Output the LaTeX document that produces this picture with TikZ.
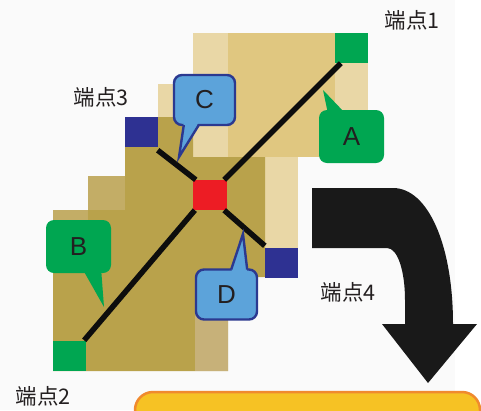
\documentclass[tikz,border=0pt]{standalone}
\usepackage{fontspec}
\setmainfont{Liberation Sans}
\newfontfamily\cjk{Noto Sans CJK SC}
\usetikzlibrary{calc}
\definecolor{bgc}{HTML}{FAFAFA}
\definecolor{tanlight}{HTML}{E9D7A6}
\definecolor{tanmain}{HTML}{E0C780}
\definecolor{tandark}{HTML}{B9A24B}
\definecolor{tanstep}{HTML}{C3AD66}
\definecolor{tanlow}{HTML}{C7B179}
\definecolor{gr}{HTML}{00A651}
\definecolor{bl}{HTML}{2E3192}
\definecolor{rd}{HTML}{ED1C24}
\definecolor{cfill}{HTML}{5CA3DA}
\definecolor{cborder}{HTML}{2B3990}
\definecolor{ylw}{HTML}{F6C224}
\definecolor{org}{HTML}{F08A2E}
\definecolor{txt}{HTML}{231F20}
\begin{document}
\begin{tikzpicture}[x=1pt,y=-1pt,
  sq/.style={minimum width=33pt,minimum height=30pt,inner sep=0pt,draw=none},
  link/.style={line width=5.5pt,black!95},
  label/.style={font=\cjk\fontsize{21.5}{24}\selectfont,text=txt,inner sep=0pt},
  gcall/.style={fill=gr,rounded corners=8pt,minimum width=65pt,minimum height=53pt,inner sep=0pt,font=\fontsize{26}{30}\selectfont,text=txt},
  bcall/.style={fill=cfill,draw=cborder,line width=2.4pt,rounded corners=8pt,minimum width=61pt,minimum height=50pt,inner sep=0pt,font=\fontsize{26}{30}\selectfont,text=txt},
  gptr/.style={fill=gr},
  bptr/.style={fill=cfill,draw=cborder,line width=2.4pt,line join=miter}
]
\useasboundingbox (0,0) rectangle (481,410);
\fill[bgc] (0,0) rectangle (455,410);
\fill[white] (455,0) rectangle (481,410);

% tan blocks
\fill[tanmain] (193,33) rectangle (335,157);
\fill[tanlight] (193,33) rectangle (228,157);
\fill[tanlight] (335,63) rectangle (368,157);
\fill[tanlight] (158,84) rectangle (193,117);
\fill[tanlight] (265,157) rectangle (298,248);
\fill[tandark] (125,117) -- (193,117) -- (193,157) -- (265,157) -- (265,277) -- (228,277)
  -- (228,371) -- (53,371) -- (53,210) -- (88,210) -- (88,176) -- (125,176) -- cycle;
\fill[tanstep] (88,176) rectangle (125,210);
\fill[tanstep] (53,210) rectangle (88,222);
\fill[tanlow] (195,277) rectangle (228,371);

% endpoints
\node[sq,fill=gr] (e1) at (351.5,48) {};
\node[sq,fill=gr] (e2) at (69.5,355.5) {};
\node[sq,fill=bl] (e3) at (141,132) {};
\node[sq,fill=bl] (e4) at (281.5,263) {};
\node[sq,fill=rd,minimum width=34pt] (ctr) at (210,195) {};

% links
\draw[link] ([xshift=6pt]e1.south west) -- ([xshift=-3pt]ctr.north east);
\draw[link] ([xshift=2pt]ctr.south west) -- ([xshift=-2pt]e2.north east);
\draw[link] ([yshift=-3pt]e3.south east) -- ([xshift=3pt]ctr.north west);
\draw[link] ([xshift=-3pt]ctr.south east) -- ([yshift=2pt]e4.north west);

% labels
\node[label] (l1) at (412,20) {端点1};
\node[label] (l2) at (43,396) {端点2};
\node[label] (l3) at (101,97) {端点3};
\node[label] (l4) at (348,292) {端点4};

% callouts
\node[gcall] (cA) at (351.5,136.5) {A};
\coordinate (tA) at (323,90);
\fill[gptr] ($(cA.north west)+(9,3)$) -- (tA) -- ($(cA.north west)+(26,3)$) -- cycle;

\node[gcall] (cB) at (78.5,246.5) {B};
\coordinate (tB) at (104,307);
\fill[gptr] ($(cB.south east)+(-28,-3)$) -- (tB) -- ($(cB.south east)+(-10,-3)$) -- cycle;

\node[bcall] (cC) at (204.5,100) {C};
\coordinate (tC) at (179,157);
\fill[cfill] ($(cC.south west)+(11,-4)$) -- (tC) -- ($(cC.south west)+(26,-4)$) -- cycle;
\draw[bptr] ($(cC.south west)+(11,-1.2)$) -- (tC) -- ($(cC.south west)+(26,-1.2)$);

\node[bcall] (cD) at (226.5,294.5) {D};
\coordinate (tD) at (243,234);
\fill[cfill] ($(cD.north east)+(-27,4)$) -- (tD) -- ($(cD.north east)+(-11,4)$) -- cycle;
\draw[bptr] ($(cD.north east)+(-27,1.2)$) -- (tD) -- ($(cD.north east)+(-11,1.2)$);

% big curved arrow
\fill[black!90] (312,188) -- (393,188) .. controls (428,188) and (453,245) .. (453,324)
  -- (477,324) -- (428,383) -- (382,324) -- (405,324) -- (405,300)
  .. controls (405,272) and (398,248) .. (387,248) -- (312,248) -- cycle;

% yellow box
\draw[fill=ylw,draw=org,line width=2.5pt,rounded corners=18pt] (135,392) rectangle (480,450);
\end{tikzpicture}
\end{document}
